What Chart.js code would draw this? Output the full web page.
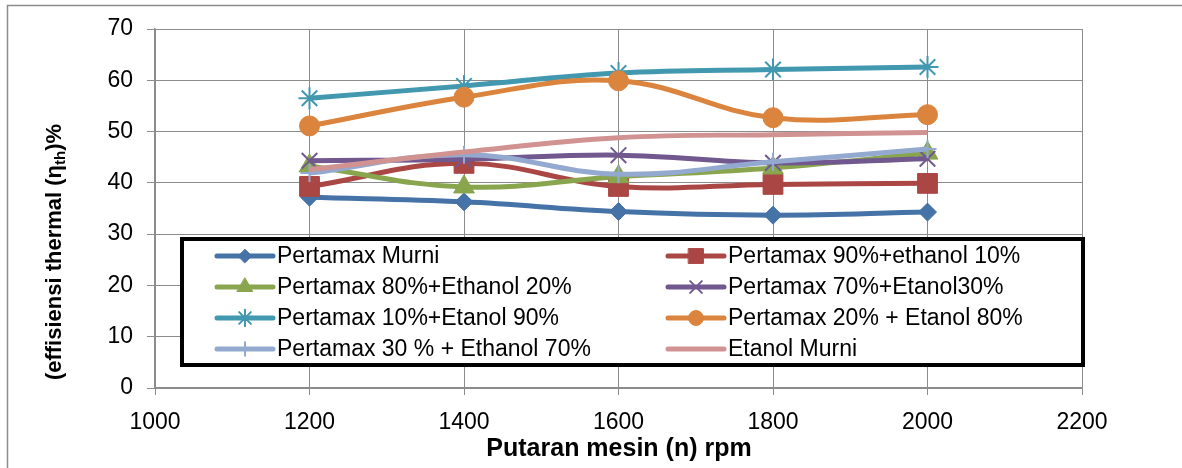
<!DOCTYPE html>
<html>
<head>
<meta charset="utf-8">
<script src="https://cdn.jsdelivr.net/npm/chart.js@4"></script>
<style>
html,body{margin:0;padding:0;background:#fff;}
canvas{display:block;}
</style>
</head>
<body>
<canvas id="c" width="1182" height="468"></canvas>
<script>
// ---- data ----
const rpm = [1200, 1400, 1600, 1800, 2000];
const xTicks = [1000, 1200, 1400, 1600, 1800, 2000, 2200];
const yTicks = [0, 10, 20, 30, 40, 50, 60, 70];

const seriesNames = [
  'Pertamax Murni',
  'Pertamax 90%+ethanol 10%',
  'Pertamax 80%+Ethanol 20%',
  'Pertamax 70%+Etanol30%',
  'Pertamax 10%+Etanol 90%',
  'Pertamax 20% + Etanol 80%',
  'Pertamax 30 % + Ethanol 70%',
  'Etanol Murni'
];
const pertamaxMurni  = [37.2, 36.3, 34.4, 33.7, 34.3];
const p90e10         = [39.3, 43.8, 39.3, 39.7, 39.9];
const p80e20         = [43.3, 39.2, 41.2, 42.9, 45.8];
const p70e30         = [44.3, 44.6, 45.4, 43.9, 44.7];
const p10e90         = [56.5, 58.9, 61.4, 62.1, 62.6];
const p20e80         = [51.1, 56.7, 59.9, 52.7, 53.3];
const p30e70         = [41.9, 45.5, 41.7, 44.1, 46.6];
const etanolMurni    = [42.6, 46.0, 48.8, 49.4, 49.8];

const seriesValues = [pertamaxMurni, p90e10, p80e20, p70e30, p10e90, p20e80, p30e70, etanolMurni];

// ---- styles ----
const colors = ['#4572A7', '#AA4643', '#89A54E', '#71588F', '#4198AF', '#DB843D', '#93A9CF', '#D19392'];
const pStyles = ['rectRot', 'rect', 'triangle', 'crossRot', 'star', 'circle', 'cross', false];
const pRadius = [9, 14, 12, 11, 11, 10, 9, 0];
const pBorderW = [1, 1, 1, 2, 2, 1, 2, 0];

const datasets = seriesNames.map((name, i) => ({
  label: name,
  data: rpm.map((x, j) => ({x: x, y: seriesValues[i][j]})),
  borderColor: colors[i],
  backgroundColor: colors[i],
  pointBackgroundColor: colors[i],
  pointBorderColor: colors[i],
  pointBorderWidth: pBorderW[i],
  pointStyle: pStyles[i],
  pointRadius: pRadius[i],
  pointHoverRadius: pRadius[i],
  borderWidth: 5,
  tension: 0.4,
  fill: false,
  order: seriesNames.length - 1 - i
}));

const FONT = "'Liberation Sans', Arial, sans-serif";

function drawMarker(ctx, style, x, y, r, color, bw) {
  if (!style) return;
  if (Chart.helpers && Chart.helpers.drawPoint) {
    ctx.save();
    ctx.fillStyle = color;
    ctx.strokeStyle = color;
    ctx.lineWidth = bw;
    Chart.helpers.drawPoint(ctx, {pointStyle: style, radius: r, rotation: 0, borderWidth: bw}, x, y);
    ctx.restore();
  }
}

const overlay = {
  id: 'overlay',
  afterDraw(chart) {
    const ctx = chart.ctx;
    ctx.save();
    // outer frame
    ctx.strokeStyle = '#8c8c8c';
    ctx.lineWidth = 1.5;
    ctx.beginPath();
    ctx.moveTo(7.5, 480);
    ctx.lineTo(7.5, 5.5);
    ctx.lineTo(1190, 5.5);
    ctx.stroke();

    // legend box
    const bx = 182, by = 239, bw = 901, bh = 126;
    ctx.fillStyle = '#fff';
    ctx.fillRect(bx, by, bw, bh);
    ctx.strokeStyle = '#000';
    ctx.lineWidth = 4;
    ctx.strokeRect(bx, by, bw, bh);

    const rowsY = [256, 287, 318, 349];
    const colX = [217, 668];
    ctx.font = '23px ' + FONT;
    ctx.textBaseline = 'middle';
    ctx.textAlign = 'left';
    seriesNames.forEach((name, i) => {
      const col = i % 2, row = Math.floor(i / 2);
      const x0 = colX[col], y0 = rowsY[row];
      ctx.strokeStyle = colors[i];
      ctx.lineWidth = 5;
      ctx.lineCap = 'round';
      ctx.beginPath();
      ctx.moveTo(x0, y0);
      ctx.lineTo(x0 + 56, y0);
      ctx.stroke();
      drawMarker(ctx, pStyles[i], x0 + 28, y0, pRadius[i] * 0.75, colors[i], pBorderW[i]);
      ctx.fillStyle = '#000';
      ctx.fillText(name, x0 + 60, y0 + 1);
    });

    // x axis title
    ctx.fillStyle = '#000';
    ctx.font = 'bold 25px ' + FONT;
    ctx.textAlign = 'center';
    ctx.textBaseline = 'middle';
    ctx.fillText('Putaran mesin (n) rpm', 619, 449);

    // y axis title with subscript
    ctx.translate(53, 252);
    ctx.rotate(-Math.PI / 2);
    const big = 'bold 22px ' + FONT, small = 'bold 15px ' + FONT;
    const p1 = '(effisiensi thermal (\u03B7', p2 = 'th', p3 = ')%';
    ctx.font = big; const w1 = ctx.measureText(p1).width; const w3 = ctx.measureText(p3).width;
    ctx.font = small; const w2 = ctx.measureText(p2).width;
    let sx = -(w1 + w2 + w3) / 2;
    ctx.textAlign = 'left';
    ctx.textBaseline = 'alphabetic';
    ctx.font = big; ctx.fillText(p1, sx, 8); sx += w1;
    ctx.font = small; ctx.fillText(p2, sx, 12); sx += w2;
    ctx.font = big; ctx.fillText(p3, sx, 8);
    ctx.restore();
  }
};

new Chart(document.getElementById('c'), {
  type: 'line',
  data: {datasets: datasets},
  options: {
    responsive: false,
    animation: false,
    events: [],
    layout: {padding: {left: 0, top: 29, right: 100, bottom: 0}},
    plugins: {legend: {display: false}, tooltip: {enabled: false}, title: {display: false}},
    scales: {
      x: {
        type: 'linear',
        min: xTicks[0],
        max: xTicks[xTicks.length - 1],
        afterBuildTicks: (s) => { s.ticks = xTicks.map(v => ({value: v})); },
        afterFit: (s) => { s.height = 80; },
        grid: {color: '#8c8c8c', lineWidth: 1, tickLength: 7, drawTicks: true},
        border: {color: '#8c8c8c', width: 1.5},
        ticks: {color: '#000', font: {family: FONT, size: 23}, padding: 14, maxRotation: 0, autoSkip: false,
                callback: (v) => String(v)}
      },
      y: {
        type: 'linear',
        min: yTicks[0],
        max: yTicks[yTicks.length - 1],
        afterBuildTicks: (s) => { s.ticks = yTicks.map(v => ({value: v})); },
        afterFit: (s) => { s.width = 155; },
        grid: {color: '#8c8c8c', lineWidth: 1, tickLength: 8, drawTicks: true},
        border: {color: '#8c8c8c', width: 1.5},
        ticks: {color: '#000', font: {family: FONT, size: 23}, padding: 14, callback: (v) => String(v)}
      }
    }
  },
  plugins: [overlay]
});
</script>
</body>
</html>
